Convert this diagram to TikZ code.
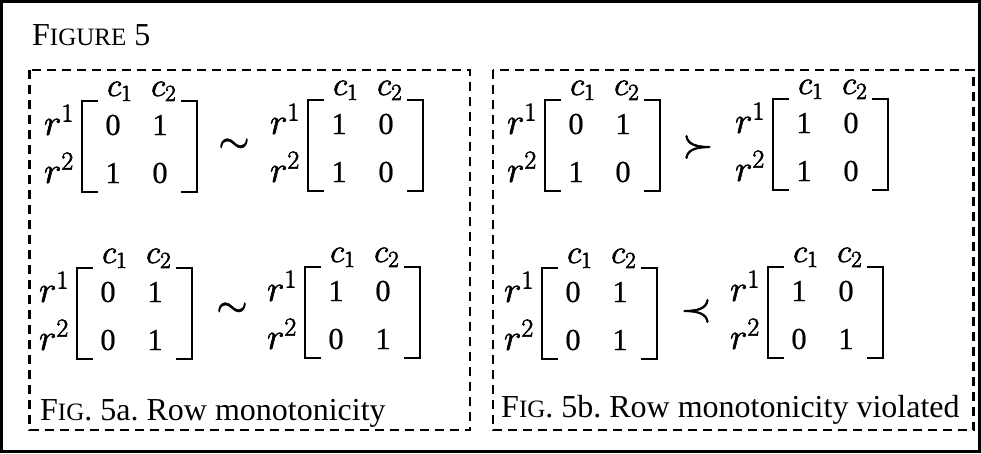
\RequirePackage{fix-cm}
\documentclass[tikz,border=0pt]{standalone}
\usepackage{fontspec}
\setmainfont{Liberation Serif}
\frenchspacing

% glyphs filled and outlined, for a heavier stroke
\newcommand\heavy[2][0.6]{\special{pdf:literal direct 2 Tr #1 w}#2\special{pdf:literal direct 0 Tr}}

\tikzset{
  frame/.style={line width=3pt},
  dashbox/.style={line width=2.6pt, dash pattern=on 9pt off 6pt},
  brk/.style={line width=1.8pt},
  entry/.style={inner sep=0pt, anchor=base, font=\fontsize{30.5}{31}\selectfont},
  rowlab/.style={inner sep=0pt, anchor=base east, font=\fontsize{37}{37}\selectfont},
  collab/.style={inner sep=0pt, anchor=base west, font=\fontsize{33}{33}\selectfont},
  rel/.style={inner sep=0pt, font=\fontsize{40}{40}\selectfont},
  captext/.style={inner sep=0pt, anchor=base west, font=\fontsize{32}{32}\selectfont},
}
% small capitals built from reduced upper-case letters
\newcommand\smallcap[1]{{\fontsize{25}{25}\selectfont #1}}

% bracketed 2x2 matrix with row labels r^1, r^2 and column labels c_1, c_2
% #1 name, #2 left bracket x, #3 top bracket y, #4-#7 entries
\newcommand\labmatrix[7]{%
  \begin{scope}[shift={(#2,#3)}]
    \draw[brk] (16,0) -- (0,0) -- (0,91) -- (16,91);
    \draw[brk] (99,0) -- (115,0) -- (115,91) -- (99,91);
    \node[rowlab] (#1-r1) at (-8,34) {\heavy{$r^1$}};
    \node[rowlab] (#1-r2) at (-8,82) {\heavy{$r^2$}};
    \node[collab] (#1-c1) at (25,-5) {\heavy{$c_1$}};
    \node[collab] (#1-c2) at (69,-5) {\heavy{$c_2$}};
    \node[entry] (#1-11) at (31,34) {\heavy[0.2]{#4}};
    \node[entry] (#1-12) at (78,34) {\heavy[0.2]{#5}};
    \node[entry] (#1-21) at (31,82) {\heavy[0.2]{#6}};
    \node[entry] (#1-22) at (78,82) {\heavy[0.2]{#7}};
  \end{scope}}

\begin{document}
\begin{tikzpicture}[x=1pt,y=-1pt]
  \useasboundingbox (0,0) rectangle (981,453);
  \draw[frame] (1.5,1.5) rectangle (979.5,451.5);

  \node[captext] (title) at (32,45) {F\smallcap{IGURE} 5};

  % panel a
  \draw[dashbox] (29.5,70) rectangle (470,430);
  \labmatrix{a1}{82}{101}{0}{1}{1}{0}
  \node[rel] (simA) at (234,146) {\heavy{$\sim$}};
  \labmatrix{a2}{308}{100}{1}{0}{1}{0}
  \labmatrix{a3}{77}{268}{0}{1}{0}{1}
  \node[rel] (simB) at (232,310) {\heavy{$\sim$}};
  \labmatrix{a4}{305}{267}{1}{0}{0}{1}
  \node[captext] (capA) at (40,420) {F\smallcap{IG}. 5a. Row monotonicity};

  % panel b
  \draw[dashbox] (493,70) rectangle (973.5,430);
  \labmatrix{b1}{545}{100}{0}{1}{1}{0}
  \node[rel] (succ) at (698,147) {\heavy{$\succ$}};
  \labmatrix{b2}{773}{99}{1}{0}{1}{0}
  \labmatrix{b3}{542}{268}{0}{1}{0}{1}
  \node[rel] (prec) at (696,311) {\heavy{$\prec$}};
  \labmatrix{b4}{768}{267}{1}{0}{0}{1}
  \node[captext] (capB) at (501,417) {F\smallcap{IG}. 5b. Row monotonicity violated};
\end{tikzpicture}
\end{document}
